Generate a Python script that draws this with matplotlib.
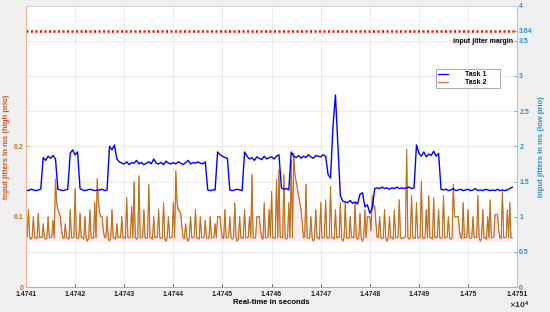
import numpy as np
import matplotlib
matplotlib.use('Agg')
import matplotlib.pyplot as plt
from matplotlib.lines import Line2D

plt.rcParams['font.family'] = ['Liberation Sans', 'DejaVu Sans']
plt.rcParams['font.weight'] = 'bold'

# time axis start (s) and sample steps of the two recordings
t_start = 14741.0
t1_step = 0.05
t2_step = 0.025

# Task 1, low prio input jitter (ms), right axis
task1 = [
    1.38, 1.37, 1.39, 1.38, 1.37, 1.38, 1.39, 1.84, 1.80, 1.86,
    1.83, 1.87, 1.82, 1.39, 1.38, 1.37, 1.38, 1.39, 1.90, 1.95,
    1.88, 1.92, 1.40, 1.38, 1.37, 1.38, 1.39, 1.38, 1.37, 1.38,
    1.38, 1.39, 1.37, 1.38, 2.00, 1.95, 2.02, 1.82, 1.78, 1.76,
    1.75, 1.78, 1.74, 1.77, 1.76, 1.80, 1.75, 1.77, 1.74, 1.76,
    1.78, 1.75, 1.82, 1.76, 1.75, 1.77, 1.74, 1.79, 1.76, 1.75,
    1.77, 1.75, 1.78, 1.76, 1.74, 1.77, 1.80, 1.75, 1.77, 1.76,
    1.78, 1.76, 1.75, 1.78, 1.38, 1.37, 1.38, 1.38, 1.92, 1.88,
    1.86, 1.84, 1.83, 1.38, 1.37, 1.38, 1.39, 1.38, 1.37, 1.92,
    1.86, 1.82, 1.84, 1.80, 1.85, 1.83, 1.81, 1.86, 1.82, 1.84,
    1.85, 1.82, 1.86, 1.88, 1.41, 1.39, 1.40, 1.38, 1.92, 1.86,
    1.84, 1.87, 1.83, 1.86, 1.84, 1.88, 1.85, 1.83, 1.87, 1.86,
    1.85, 1.88, 1.86, 1.60, 1.55, 2.28, 2.73, 2.00, 1.30, 1.22,
    1.21, 1.20, 1.23, 1.19, 1.21, 1.18, 1.32, 1.34, 1.14, 1.17,
    1.05, 1.12, 1.40, 1.41, 1.40, 1.42, 1.40, 1.41, 1.39, 1.41,
    1.40, 1.42, 1.40, 1.41, 1.40, 1.41, 1.42, 1.40, 1.41, 2.02,
    1.90, 1.86, 1.92, 1.85, 1.89, 1.87, 1.93, 1.86, 1.90, 1.39,
    1.38, 1.39, 1.37, 1.38, 1.40, 1.37, 1.38, 1.39, 1.37, 1.38,
    1.39, 1.37, 1.38, 1.40, 1.37, 1.38, 1.37, 1.39, 1.38, 1.37,
    1.38, 1.37, 1.39, 1.37, 1.38, 1.37, 1.38, 1.40, 1.42,
]

# Task 2, high prio input jitter (ms), left axis
task2 = [
    0.07, 0.072, 0.11, 0.07, 0.068, 0.071, 0.10, 0.07, 0.07, 0.069,
    0.105, 0.07, 0.071, 0.07, 0.09, 0.07, 0.068, 0.07, 0.10, 0.07,
    0.07, 0.071, 0.095, 0.07, 0.153, 0.12, 0.11, 0.105, 0.10, 0.08,
    0.07, 0.069, 0.09, 0.07, 0.07, 0.068, 0.11, 0.07, 0.07, 0.071,
    0.14, 0.07, 0.069, 0.07, 0.105, 0.07, 0.071, 0.068, 0.10, 0.07,
    0.065, 0.07, 0.11, 0.07, 0.07, 0.069, 0.12, 0.07, 0.154, 0.12,
    0.105, 0.10, 0.10, 0.08, 0.07, 0.071, 0.10, 0.07, 0.065, 0.07,
    0.11, 0.07, 0.07, 0.068, 0.09, 0.07, 0.071, 0.07, 0.10, 0.07,
    0.07, 0.069, 0.127, 0.07, 0.07, 0.071, 0.115, 0.07, 0.15, 0.07,
    0.068, 0.07, 0.158, 0.07, 0.07, 0.071, 0.11, 0.07, 0.069, 0.07,
    0.146, 0.07, 0.07, 0.068, 0.10, 0.07, 0.071, 0.07, 0.11, 0.07,
    0.069, 0.07, 0.12, 0.07, 0.065, 0.07, 0.10, 0.07, 0.07, 0.071,
    0.12, 0.07, 0.165, 0.12, 0.11, 0.108, 0.105, 0.085, 0.07, 0.069,
    0.09, 0.07, 0.065, 0.07, 0.10, 0.07, 0.07, 0.071, 0.11, 0.07,
    0.07, 0.068, 0.10, 0.07, 0.07, 0.071, 0.095, 0.07, 0.069, 0.07,
    0.10, 0.07, 0.07, 0.071, 0.09, 0.07, 0.10, 0.10, 0.10, 0.08,
    0.07, 0.069, 0.11, 0.07, 0.07, 0.071, 0.10, 0.07, 0.068, 0.07,
    0.12, 0.07, 0.065, 0.07, 0.10, 0.07, 0.07, 0.069, 0.11, 0.07,
    0.07, 0.071, 0.10, 0.07, 0.16, 0.07, 0.069, 0.07, 0.10, 0.10,
    0.10, 0.08, 0.07, 0.068, 0.12, 0.07, 0.07, 0.071, 0.11, 0.07,
    0.136, 0.07, 0.07, 0.069, 0.153, 0.07, 0.167, 0.07, 0.071, 0.07,
    0.16, 0.07, 0.068, 0.07, 0.12, 0.07, 0.18, 0.07, 0.19, 0.16,
    0.15, 0.14, 0.13, 0.12, 0.11, 0.09, 0.07, 0.071, 0.146, 0.07,
    0.069, 0.07, 0.10, 0.07, 0.065, 0.07, 0.11, 0.07, 0.07, 0.068,
    0.12, 0.07, 0.07, 0.071, 0.124, 0.07, 0.069, 0.07, 0.143, 0.07,
    0.07, 0.068, 0.11, 0.07, 0.071, 0.07, 0.12, 0.07, 0.065, 0.07,
    0.12, 0.07, 0.07, 0.069, 0.10, 0.07, 0.071, 0.07, 0.12, 0.07,
    0.068, 0.07, 0.105, 0.07, 0.065, 0.07, 0.11, 0.07, 0.10, 0.10,
    0.10, 0.08, 0.13, 0.115, 0.115, 0.09, 0.07, 0.071, 0.10, 0.07,
    0.069, 0.07, 0.11, 0.07, 0.065, 0.07, 0.10, 0.07, 0.07, 0.068,
    0.11, 0.07, 0.07, 0.071, 0.124, 0.07, 0.069, 0.07, 0.07, 0.071,
    0.196, 0.07, 0.068, 0.07, 0.13, 0.07, 0.07, 0.069, 0.12, 0.07,
    0.07, 0.071, 0.15, 0.07, 0.069, 0.07, 0.11, 0.07, 0.13, 0.07,
    0.07, 0.068, 0.127, 0.07, 0.071, 0.07, 0.11, 0.07, 0.069, 0.07,
    0.13, 0.07, 0.07, 0.071, 0.10, 0.07, 0.068, 0.07, 0.146, 0.10,
    0.10, 0.10, 0.10, 0.08, 0.07, 0.069, 0.12, 0.07, 0.07, 0.071,
    0.11, 0.07, 0.069, 0.07, 0.10, 0.07, 0.071, 0.07, 0.13, 0.07,
    0.065, 0.07, 0.11, 0.07, 0.07, 0.068, 0.10, 0.07, 0.124, 0.07,
    0.07, 0.071, 0.103, 0.103, 0.103, 0.08, 0.07, 0.069, 0.136, 0.07,
    0.07, 0.071, 0.11, 0.07, 0.12, 0.07, 0.07,
]

jitter_margin = 3.64
x_ticks = [14741, 14742, 14743, 14744, 14745, 14746, 14747, 14748, 14749, 14750, 14751]
left_ticks = [0, 0.1, 0.2]
right_ticks = [0, 0.5, 1, 1.5, 2, 2.5, 3, 3.5, 3.64, 4]

t1 = t_start + t1_step * np.arange(len(task1))
t2 = t_start + t2_step * np.arange(len(task2))

c_blue = '#0000ff'
c_orange = '#d95319'
c_olive = '#a8861c'
c_left = '#c0701e'
c_right = '#2f8ccc'

fig = plt.figure(figsize=(5.5, 3.12), dpi=100, facecolor='#f0f0f0')
ax = fig.add_axes([0.0473, 0.080, 0.893, 0.902])
ax2 = ax.twinx()

# Task 2 on left axis
ax.fill_between(t2, 0.065, task2, color='#ffc8d2', alpha=0.3, lw=0)
ax.plot(t2, task2, color=c_orange, lw=0.75)
ax.plot(t2, task2, color=c_olive, lw=0.5, alpha=0.8)
ax.set_xlim(14741, 14751)
ax.set_ylim(0, 0.4)
ax.set_yticks(left_ticks)
ax.set_yticklabels(['0', '0.1', '0.2'])
ax.set_xticks(x_ticks)
ax.set_xticklabels(['%g' % (v / 1e4) for v in x_ticks])
ax.grid(False)
for v in x_ticks:
    ax.axvline(v, color='#e8e8e8', lw=0.6, zorder=0)

# Task 1 on right axis
ax2.plot(t1, task1, color=c_blue, lw=1.0)
ax2.plot([14741, 14751], [jitter_margin, jitter_margin], color='#ff0000',
         lw=1.8, linestyle=(0, (0.8, 1.0)))
ax2.set_ylim(0, 4)
ax2.set_yticks(right_ticks)
ax2.set_yticklabels(['%g' % v for v in right_ticks])
for v in [0.5, 1, 1.5, 2, 2.5, 3, 3.5]:
    ax.axhline(v / 10, color='#e8e8e8', lw=0.6, zorder=0)

ax2.text(0.992, 0.872, 'input jitter margin', transform=ax2.transAxes,
         ha='right', va='center', fontsize=5, fontweight='bold')

for a in (ax, ax2):
    a.spines['top'].set_color('#d0d0d0')
    a.spines['bottom'].set_color('#b0b0b0')
    a.spines['left'].set_color('#f0b090')
    a.spines['right'].set_color('#a8c8e8')
    for s in a.spines.values():
        s.set_linewidth(0.6)

ax.tick_params(axis='x', labelsize=5, length=2, width=0.5, direction='in',
               pad=2.5, colors='#222222')
ax.tick_params(axis='y', labelsize=5, length=2, width=0.5, direction='in',
               pad=1.5, colors=c_left)
ax2.tick_params(axis='y', labelsize=5, length=2, width=0.5, direction='in',
                pad=1.5, colors=c_right)

ax.set_xlabel('Real-time in seconds', fontsize=5.5, fontweight='bold', labelpad=1)
ax.set_ylabel('input jitters in ms (high prio)', fontsize=5.5, fontweight='bold',
              color=c_orange, labelpad=3)
ax2.set_ylabel('input jitters in ms (low prio)', fontsize=5.5, fontweight='bold',
               color=c_right, labelpad=4)
fig.text(0.925, 0.012, r'$\times10^4$', fontsize=5, color='#333333')

handles = [Line2D([], [], color=c_blue, lw=0.9),
           Line2D([], [], color='#e8704a', lw=0.9)]
leg = ax2.legend(handles, ['Task 1      ', 'Task 2      '], loc='upper left',
                 bbox_to_anchor=(0.835, 0.775), fontsize=5, frameon=True,
                 fancybox=False, handlelength=1.4, handletextpad=2.4,
                 borderpad=0.3, labelspacing=0.15, borderaxespad=0)
leg.get_frame().set_edgecolor('#888888')
leg.get_frame().set_linewidth(0.6)

fig.savefig('out.png', dpi=100, facecolor=fig.get_facecolor())
